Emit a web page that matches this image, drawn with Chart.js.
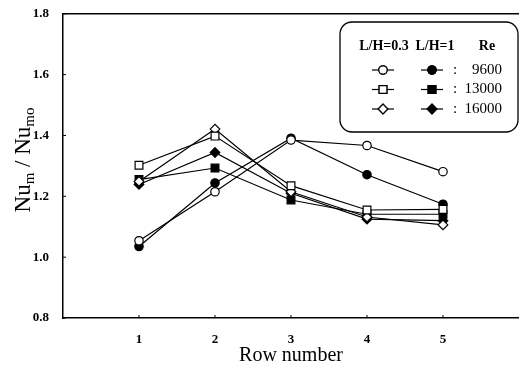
<!DOCTYPE html>
<html>
<head>
<meta charset="utf-8">
<script src="https://cdn.jsdelivr.net/npm/chart.js@4/dist/chart.umd.min.js"></script>
<style>
  html, body { margin: 0; padding: 0; background: #fff; }
  #wrap { width: 519px; height: 368px; position: relative; }
</style>
</head>
<body>
<div id="wrap"><canvas id="chart"></canvas></div>
<script>
const rows = [1, 2, 3, 4, 5];
const yTicks = [0.8, 1.0, 1.2, 1.4, 1.6, 1.8];

// L/H = 0.3 (open markers)
const lh03_9600  = [1.054, 1.215, 1.385, 1.367, 1.281];
const lh03_13000 = [1.302, 1.398, 1.235, 1.155, 1.157];
const lh03_16000 = [1.249, 1.421, 1.215, 1.132, 1.106];
// L/H = 1 (filled markers)
const lh1_9600   = [1.035, 1.244, 1.391, 1.271, 1.174];
const lh1_13000  = [1.255, 1.293, 1.188, 1.141, 1.141];
const lh1_16000  = [1.239, 1.344, 1.210, 1.125, 1.120];

const reLabels = ['9600', '13000', '16000'];
const serif = '"Liberation Serif", "Times New Roman", serif';
const radius = { circle: 4.2, rect: 5.5, rectRot: 4.8 };

function series(values, style, filled) {
  return {
    data: values.map((v, i) => ({ x: rows[i], y: v })),
    borderColor: '#000',
    borderWidth: 1.2,
    pointStyle: style,
    pointRadius: radius[style],
    pointBorderWidth: 1.2,
    pointBorderColor: '#000',
    pointBackgroundColor: filled ? '#000' : '#fff',
    showLine: true,
    fill: false
  };
}

const datasets = [
  series(lh03_9600, 'circle', false),
  series(lh03_13000, 'rect', false),
  series(lh03_16000, 'rectRot', false),
  series(lh1_9600, 'circle', true),
  series(lh1_13000, 'rect', true),
  series(lh1_16000, 'rectRot', true)
];

function marker(ctx, style, x, y, filled) {
  ctx.save();
  ctx.strokeStyle = '#000';
  ctx.lineWidth = 1.2;
  ctx.beginPath();
  ctx.moveTo(x - 11, y);
  ctx.lineTo(x + 11, y);
  ctx.stroke();
  Chart.helpers.drawPoint(ctx, { pointStyle: style, radius: radius[style], borderWidth: 1.2 }, x, y);
  ctx.fillStyle = filled ? '#000' : '#fff';
  ctx.fill();
  ctx.stroke();
  ctx.restore();
}

const decor = {
  id: 'decor',
  afterDraw(chart) {
    const { ctx, chartArea: a, scales } = chart;
    ctx.save();
    // frame top and inward ticks
    ctx.strokeStyle = '#000';
    ctx.lineWidth = 1.5;
    ctx.beginPath();
    ctx.moveTo(a.left, a.top);
    ctx.lineTo(a.right, a.top);
    ctx.stroke();
    ctx.lineWidth = 1;
    yTicks.forEach(t => {
      const py = scales.y.getPixelForValue(t);
      ctx.beginPath();
      ctx.moveTo(a.left, py);
      ctx.lineTo(a.left + 3, py);
      ctx.stroke();
    });
    rows.forEach(r => {
      const px = scales.x.getPixelForValue(r);
      ctx.beginPath();
      ctx.moveTo(px, a.bottom);
      ctx.lineTo(px, a.bottom - 3);
      ctx.stroke();
    });

    // y title with subscripts
    ctx.translate(23, 160);
    ctx.rotate(-Math.PI / 2);
    ctx.fillStyle = '#000';
    ctx.textBaseline = 'alphabetic';
    const big = '23px ' + serif, small = '15px ' + serif;
    const parts = [['Nu', big, 0], ['m', small, 4], [' / Nu', big, 0], ['mo', small, 4]];
    let w = 0;
    parts.forEach(p => { ctx.font = p[1]; w += ctx.measureText(p[0]).width; });
    let x = -w / 2;
    parts.forEach(p => {
      ctx.font = p[1];
      ctx.fillText(p[0], x, 7 + p[2]);
      x += ctx.measureText(p[0]).width;
    });
    ctx.restore();

    // legend box
    ctx.save();
    ctx.strokeStyle = '#000';
    ctx.lineWidth = 1.3;
    ctx.beginPath();
    ctx.roundRect(340, 22, 178, 110, 12);
    ctx.fillStyle = '#fff';
    ctx.fill();
    ctx.stroke();
    ctx.fillStyle = '#000';
    ctx.textBaseline = 'middle';
    ctx.textAlign = 'center';
    ctx.font = 'bold 14px ' + serif;
    ctx.fillText('L/H=0.3', 384, 46);
    ctx.fillText('L/H=1', 435, 46);
    ctx.fillText('Re', 487, 46);
    const styles = ['circle', 'rect', 'rectRot'];
    styles.forEach((s, i) => {
      const y = 70 + i * 19.5;
      marker(ctx, s, 383, y, false);
      marker(ctx, s, 432, y, true);
      ctx.font = '15px ' + serif;
      ctx.textAlign = 'center';
      ctx.fillText(':', 455, y);
      ctx.textAlign = 'right';
      ctx.fillText(reLabels[i], 502, y);
    });
    ctx.restore();
  }
};

new Chart(document.getElementById('chart'), {
  type: 'scatter',
  data: { datasets },
  options: {
    responsive: true,
    maintainAspectRatio: false,
    animation: false,
    layout: { autoPadding: false, padding: { top: 11, right: 0, left: 0, bottom: 0 } },
    plugins: { legend: { display: false }, tooltip: { enabled: false } },
    scales: {
      x: {
        type: 'linear',
        min: 0,
        max: 6,
        afterBuildTicks: s => { s.ticks = rows.map(v => ({ value: v })); },
        afterFit: s => { s.height = 50; },
        grid: { display: false },
        border: { display: true, color: '#000', width: 1.5 },
        ticks: { color: '#000', font: { family: serif, size: 13, weight: 'bold' }, padding: 6 },
        title: {
          display: true,
          text: 'Row number',
          color: '#000',
          font: { family: serif, size: 20 },
          padding: { top: 0, bottom: 0 }
        }
      },
      y: {
        min: 0.8,
        max: 1.8,
        afterBuildTicks: s => { s.ticks = yTicks.map(v => ({ value: v })); },
        afterFit: s => { s.width = 63; },
        grid: { display: false },
        border: { display: true, color: '#000', width: 1.5 },
        ticks: {
          color: '#000',
          font: { family: serif, size: 13, weight: 'bold' },
          padding: 6,
          callback: v => v.toFixed(1)
        }
      }
    }
  },
  plugins: [decor]
});
</script>
</body>
</html>
